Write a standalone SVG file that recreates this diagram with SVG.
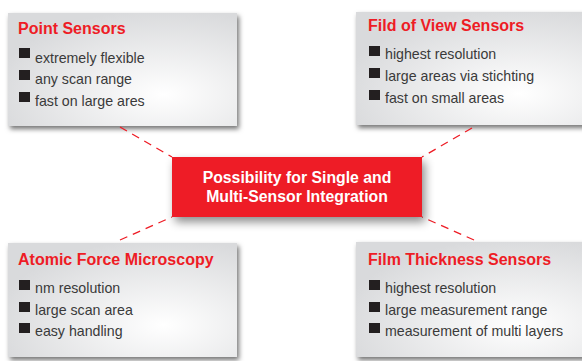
<svg xmlns="http://www.w3.org/2000/svg" width="582" height="361" viewBox="0 0 582 361">
<defs>
<radialGradient id="bg" cx="0.68" cy="0.72" r="0.75">
<stop offset="0" stop-color="#ffffff"/>
<stop offset="1" stop-color="#d9dadc"/>
</radialGradient>
<filter id="sh" x="-10%" y="-20%" width="125%" height="150%">
<feDropShadow dx="2" dy="3" stdDeviation="2.5" flood-color="#000" flood-opacity="0.55"/>
</filter>
<filter id="sh2" x="-15%" y="-40%" width="135%" height="190%">
<feDropShadow dx="3" dy="5" stdDeviation="5" flood-color="#000" flood-opacity="0.45"/>
</filter>
</defs>
<style>
.box{fill:url(#bg);filter:url(#sh)}
.title{font-family:"Liberation Sans",Arial,sans-serif;font-weight:bold;font-size:16px;fill:#ee1c25}
.item{font-family:"Liberation Sans",Arial,sans-serif;font-size:14.2px;fill:#3a3a3a}
.sq{fill:#231f20}
.conn{stroke:#ee1c25;stroke-width:1.3;stroke-dasharray:8 6;fill:none}
.ctext{font-family:"Liberation Sans",Arial,sans-serif;font-weight:bold;font-size:15.8px;fill:#ffffff}
</style>
<rect width="582" height="361" fill="#ffffff"/>
<g id="node-point">
<rect class="box" x="8" y="13" width="229" height="113"/>
<text class="title" x="18" y="34">Point Sensors</text>
<rect class="sq" x="19" y="48" width="11" height="10"/>
<text class="item" x="35" y="63">extremely flexible</text>
<rect class="sq" x="19" y="70" width="11" height="10"/>
<text class="item" x="35" y="84">any scan range</text>
<rect class="sq" x="19" y="92" width="11" height="10"/>
<text class="item" x="35" y="106">fast on large ares</text>
</g>
<g id="node-fov">
<rect class="box" x="356" y="12" width="240" height="113"/>
<text class="title" x="368" y="31">Fild of View Sensors</text>
<rect class="sq" x="369" y="46" width="11" height="10"/>
<text class="item" x="385" y="59">highest resolution</text>
<rect class="sq" x="369" y="68" width="11" height="10"/>
<text class="item" x="385" y="81">large areas via stichting</text>
<rect class="sq" x="369" y="90" width="11" height="10"/>
<text class="item" x="385" y="103">fast on small areas</text>
</g>
<g id="node-afm">
<rect class="box" x="8" y="243" width="229" height="114"/>
<text class="title" x="18" y="265">Atomic Force Microscopy</text>
<rect class="sq" x="19" y="280" width="11" height="10"/>
<text class="item" x="35" y="293">nm resolution</text>
<rect class="sq" x="19" y="302" width="11" height="10"/>
<text class="item" x="35" y="315">large scan area</text>
<rect class="sq" x="19" y="323" width="11" height="10"/>
<text class="item" x="35" y="336">easy handling</text>
</g>
<g id="node-film">
<rect class="box" x="356" y="242" width="240" height="115"/>
<text class="title" x="368" y="265">Film Thickness Sensors</text>
<rect class="sq" x="369" y="280" width="11" height="10"/>
<text class="item" x="385" y="293">highest resolution</text>
<rect class="sq" x="369" y="302" width="11" height="10"/>
<text class="item" x="385" y="315">large measurement range</text>
<rect class="sq" x="369" y="323" width="11" height="10"/>
<text class="item" x="385" y="336">measurement of multi layers</text>
</g>
<g id="connectors">
<line class="conn" x1="120" y1="127" x2="172" y2="157"/>
<line class="conn" x1="472" y1="128" x2="422" y2="157"/>
<line class="conn" x1="120" y1="240" x2="172" y2="217"/>
<line class="conn" x1="474" y1="240" x2="422" y2="217"/>
</g>
<g id="node-center">
<rect x="172" y="157" width="250" height="60" fill="#ee1c25" style="filter:url(#sh2)"/>
<text class="ctext" x="297" y="183" text-anchor="middle">Possibility for Single and</text>
<text class="ctext" x="297" y="202" text-anchor="middle">Multi-Sensor Integration</text>
</g>
</svg>
